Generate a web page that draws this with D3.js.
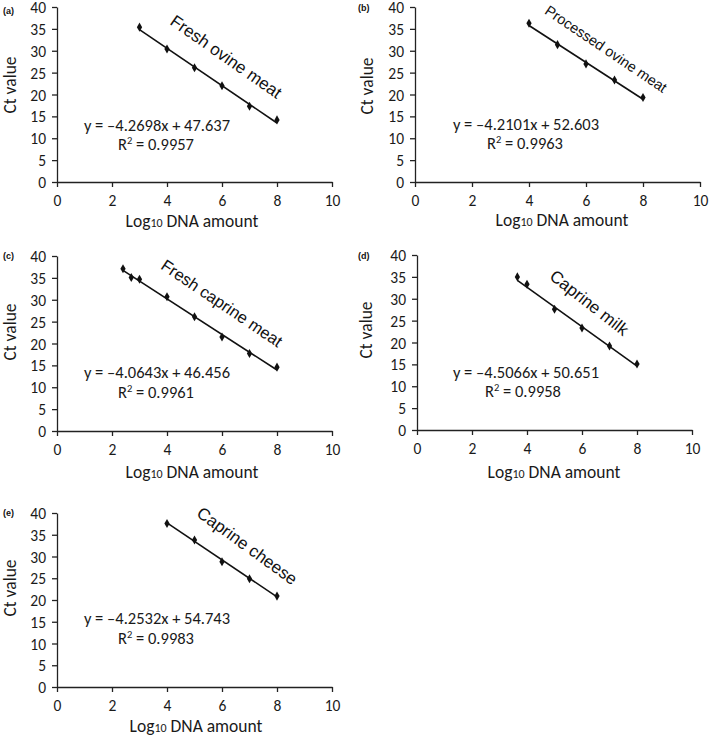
<!DOCTYPE html>
<html>
<head>
<meta charset="utf-8">
<script src="https://cdn.jsdelivr.net/npm/d3@7"></script>
<style>
  html, body { margin: 0; padding: 0; background: #fff; }
  svg { display: block; }
</style>
</head>
<body>
<script>
// ---------- DATA ----------
const panelTags = ["(a)", "(b)", "(c)", "(d)", "(e)"];
const sampleNames = ["Fresh ovine meat", "Processed ovine meat", "Fresh caprine meat", "Caprine milk", "Caprine cheese"];

const logDnaA = [3, 4, 5, 6, 7, 8];
const ctA = [35.4, 30.4, 26.1, 22.0, 17.3, 14.2];

const logDnaB = [4, 5, 6, 7, 8];
const ctB = [36.3, 31.4, 27.0, 23.3, 19.3];

const logDnaC = [2.4, 2.7, 3, 4, 5, 6, 7, 8];
const ctC = [37.1, 35.1, 34.7, 30.7, 26.1, 21.5, 17.7, 14.6];

const logDnaD = [3.65, 4, 5, 6, 7, 8];
const ctD = [35.0, 33.3, 27.6, 23.3, 19.2, 15.1];

const logDnaE = [4, 5, 6, 7, 8];
const ctE = [37.6, 33.8, 28.8, 24.9, 20.9];

const slopes = [-4.2698, -4.2101, -4.0643, -4.5066, -4.2532];
const intercepts = [47.637, 52.603, 46.456, 50.651, 54.743];
const rSquared = ["0.9957", "0.9963", "0.9961", "0.9958", "0.9983"];

const xTickValues = [0, 2, 4, 6, 8, 10];
const yTickValues = [0, 5, 10, 15, 20, 25, 30, 35, 40];

const xSeries = [logDnaA, logDnaB, logDnaC, logDnaD, logDnaE];
const ySeries = [ctA, ctB, ctC, ctD, ctE];

// ---------- LAYOUT (pixel geometry, separate from data) ----------
const layout = [
  { x0: 57,  x1: 332, y0: 182, y1: 7,   tag: [3, 14],    eq: [157, 131], r2: [156, 150], lab: [226, 57, 17, 35],   ytitle: [10, 85],  xtitle: [192, 227] },
  { x0: 415, x1: 700, y0: 182, y1: 7,   tag: [358, 11],  eq: [526, 130], r2: [525, 149], lab: [606, 49, 14.5, 34], ytitle: [367, 86], xtitle: [562, 226] },
  { x0: 57,  x1: 332, y0: 431, y1: 256, tag: [3, 259],   eq: [157, 378], r2: [156, 398], lab: [222, 303, 16.5, 34], ytitle: [10, 332], xtitle: [192, 478] },
  { x0: 417, x1: 692, y0: 430, y1: 255, tag: [358, 259], eq: [526, 378], r2: [523, 397], lab: [589, 303, 17, 38],  ytitle: [366, 330], xtitle: [554, 478] },
  { x0: 57,  x1: 332, y0: 687, y1: 513, tag: [3, 516],   eq: [157, 624], r2: [156, 644], lab: [247, 546, 17, 36],  ytitle: [10, 588], xtitle: [196, 732] }
];

const W = 709, H = 738;
const svg = d3.select("body").append("svg").attr("width", W).attr("height", H);

const axisFont = "Carlito, Lato, 'Open Sans', sans-serif";
const labelFont = "'Liberation Sans', Arial, sans-serif";
const ink = "#1a1a1a";

layout.forEach((L, i) => {
  const g = svg.append("g");
  const x = d3.scaleLinear().domain([0, 10]).range([L.x0, L.x1]);
  const y = d3.scaleLinear().domain([0, 40]).range([L.y0, L.y1]);

  // axes
  const xAxis = d3.axisBottom(x).tickValues(xTickValues).tickSize(5).tickPadding(4).tickSizeOuter(0);
  const yAxis = d3.axisLeft(y).tickValues(yTickValues).tickSize(5).tickPadding(6).tickSizeOuter(0);

  const gx = g.append("g").attr("transform", `translate(0,${L.y0})`).call(xAxis);
  const gy = g.append("g").attr("transform", `translate(${L.x0},0)`).call(yAxis);
  [gx, gy].forEach(a => {
    a.select(".domain").attr("stroke", "#222").attr("stroke-width", 1.3);
    a.selectAll(".tick line").attr("stroke", "#222").attr("stroke-width", 1.3);
    a.selectAll(".tick text").attr("font-size", 15.5).attr("fill", ink).attr("font-family", axisFont);
  });
  gx.selectAll(".tick text").attr("dy", "0.95em");
  gy.selectAll(".tick text").attr("dy", "0.36em");

  // panel tag
  g.append("text").attr("x", L.tag[0]).attr("y", L.tag[1])
    .attr("font-family", labelFont).attr("font-weight", "bold").attr("font-size", 9)
    .attr("fill", "#111").text(panelTags[i]);

  // y axis title
  g.append("text")
    .attr("transform", `translate(${L.ytitle[0]},${L.ytitle[1]}) rotate(-90)`)
    .attr("text-anchor", "middle").attr("dominant-baseline", "central")
    .attr("font-family", axisFont).attr("font-size", 17.5).attr("fill", ink)
    .text("Ct value");

  // x axis title
  const xt = g.append("text").attr("x", L.xtitle[0]).attr("y", L.xtitle[1])
    .attr("text-anchor", "middle")
    .attr("font-family", axisFont).attr("font-size", 17.5).attr("fill", ink);
  xt.append("tspan").text("Log");
  xt.append("tspan").attr("font-size", 12).text("10");
  xt.append("tspan").text(" DNA amount");

  // regression line
  const xs = xSeries[i], ys = ySeries[i];
  const xmin = d3.min(xs), xmax = d3.max(xs);
  const fit = v => slopes[i] * v + intercepts[i];
  g.append("line")
    .attr("x1", x(xmin)).attr("y1", y(fit(xmin)))
    .attr("x2", x(xmax)).attr("y2", y(fit(xmax)))
    .attr("stroke", "#111").attr("stroke-width", 1.6);

  // points (diamonds)
  const sym = d3.symbol().type(d3.symbolDiamond).size(24);
  g.selectAll(".pt").data(xs.map((v, k) => [v, ys[k]])).enter()
    .append("path")
    .attr("d", sym)
    .attr("transform", d => `translate(${x(d[0])},${y(d[1])})`)
    .attr("fill", "#111");

  // equation
  g.append("text").attr("x", L.eq[0]).attr("y", L.eq[1])
    .attr("text-anchor", "middle").attr("font-family", axisFont)
    .attr("font-size", 16.5).attr("fill", ink)
    .text(`y = \u2013${Math.abs(slopes[i]).toFixed(4)}x + ${intercepts[i].toFixed(3)}`);

  const r2t = g.append("text").attr("x", L.r2[0]).attr("y", L.r2[1])
    .attr("text-anchor", "middle").attr("font-family", axisFont)
    .attr("font-size", 16.5).attr("fill", ink);
  r2t.append("tspan").text("R");
  r2t.append("tspan").attr("font-size", 10.5).attr("dy", -6).text("2");
  r2t.append("tspan").attr("dy", 6).text(` = ${rSquared[i]}`);

  // rotated sample label
  g.append("text")
    .attr("transform", `translate(${L.lab[0]},${L.lab[1]}) rotate(${L.lab[3]})`)
    .attr("text-anchor", "middle").attr("dominant-baseline", "central")
    .attr("font-family", labelFont).attr("font-size", L.lab[2]).attr("fill", "#111")
    .text(sampleNames[i]);
});
</script>
</body>
</html>
